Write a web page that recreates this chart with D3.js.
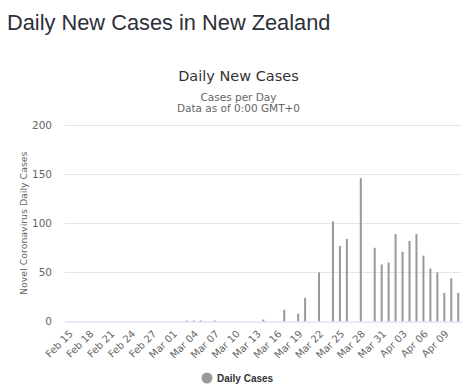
<!DOCTYPE html>
<html>
<head>
<meta charset="utf-8">
<script src="https://cdn.jsdelivr.net/npm/d3@7"></script>
<style>
  body { margin: 0; background: #fff; }
  svg text { font-family: "DejaVu Sans", Verdana, sans-serif; }
</style>
</head>
<body>
<div id="viz"></div>
<script>
// Categories (one per day)
const dates = [
  "Feb 15", "Feb 16", "Feb 17", "Feb 18", "Feb 19", "Feb 20", "Feb 21", "Feb 22", "Feb 23", "Feb 24",
  "Feb 25", "Feb 26", "Feb 27", "Feb 28", "Feb 29", "Mar 01", "Mar 02", "Mar 03", "Mar 04", "Mar 05",
  "Mar 06", "Mar 07", "Mar 08", "Mar 09", "Mar 10", "Mar 11", "Mar 12", "Mar 13", "Mar 14", "Mar 15",
  "Mar 16", "Mar 17", "Mar 18", "Mar 19", "Mar 20", "Mar 21", "Mar 22", "Mar 23", "Mar 24", "Mar 25",
  "Mar 26", "Mar 27", "Mar 28", "Mar 29", "Mar 30", "Mar 31", "Apr 01", "Apr 02", "Apr 03", "Apr 04",
  "Apr 05", "Apr 06", "Apr 07", "Apr 08", "Apr 09", "Apr 10", "Apr 11"
];

// Daily new cases
const cases = [
  0, 0, 0, 0, 0, 0, 0, 0, 0, 0,
  0, 0, 0, 0, 0, 0, 0, 1, 1, 1,
  0, 1, 0, 0, 0, 0, 0, 0, 2, 0,
  0, 12, 0, 8, 24, 0, 50, 0, 102, 77,
  84, 0, 146, 0, 75, 58, 60, 89, 71, 82,
  89, 67, 54, 50, 29, 44, 29
];

// Labelled ticks
const xTickLabels = [
  "Feb 15", "Feb 18", "Feb 21", "Feb 24", "Feb 27", "Mar 01", "Mar 04", "Mar 07", "Mar 10", "Mar 13",
  "Mar 16", "Mar 19", "Mar 22", "Mar 25", "Mar 28", "Mar 31", "Apr 03", "Apr 06", "Apr 09"
];
const yTicks = [0, 50, 100, 150, 200];

const width = 467;
const height = 390;
const margin = {top: 125, right: 5.3, bottom: 68.5, left: 65};

const svg = d3.select("#viz").append("svg")
  .attr("width", width)
  .attr("height", height);

// Page title
svg.append("text")
  .attr("x", 7)
  .attr("y", 30)
  .style("font-family", "'Liberation Sans', Arial, sans-serif")
  .attr("font-size", 21.8)
  .attr("fill", "#2d2f3a")
  .text("Daily New Cases in New Zealand");

// Chart title + subtitle
svg.append("text")
  .attr("x", 238.5).attr("y", 81)
  .attr("text-anchor", "middle")
  .attr("font-size", 14.5)
  .attr("fill", "#333")
  .text("Daily New Cases");

svg.append("text")
  .attr("x", 238.5).attr("y", 100.5)
  .attr("text-anchor", "middle")
  .attr("font-size", 10.5)
  .attr("fill", "#666")
  .text("Cases per Day");

svg.append("text")
  .attr("x", 238.5).attr("y", 111.5)
  .attr("text-anchor", "middle")
  .attr("font-size", 10.5)
  .attr("fill", "#666")
  .text("Data as of 0:00 GMT+0");

const x = d3.scaleBand()
  .domain(dates)
  .range([margin.left, width - margin.right]);

const y = d3.scaleLinear()
  .domain([0, 200])
  .range([height - margin.bottom, margin.top]);

// Gridlines
svg.append("g")
  .selectAll("line")
  .data(yTicks.filter(d => d > 0))
  .enter()
  .append("line")
  .attr("x1", margin.left)
  .attr("x2", width - margin.right)
  .attr("y1", d => Math.round(y(d)) + 0.5)
  .attr("y2", d => Math.round(y(d)) + 0.5)
  .attr("stroke", "#e6e6e6");

// Y axis labels
const yAxis = d3.axisLeft(y).tickValues(yTicks).tickSize(0).tickPadding(13);
const yg = svg.append("g")
  .attr("transform", `translate(${margin.left},0)`)
  .call(yAxis);
yg.select(".domain").remove();
yg.selectAll("text")
  .attr("font-size", 10.5)
  .attr("fill", "#666")
  .style("font-family", "'DejaVu Sans', Verdana, sans-serif");

// Y axis title
svg.append("text")
  .attr("transform", `translate(27,${(margin.top + height - margin.bottom) / 2}) rotate(-90)`)
  .attr("text-anchor", "middle")
  .attr("font-size", 9.4)
  .attr("fill", "#666")
  .text("Novel Coronavirus Daily Cases");

// Bars
const barW = 2;
svg.append("g")
  .selectAll("rect")
  .data(cases)
  .enter()
  .append("rect")
  .attr("x", (d, i) => x(dates[i]) + x.bandwidth() / 2 - barW / 2)
  .attr("y", d => y(d))
  .attr("width", barW)
  .attr("height", d => y(0) - y(d))
  .attr("fill", "#999");

// X axis
const xAxis = d3.axisBottom(x).tickValues(xTickLabels).tickSize(0).tickPadding(0);
const xg = svg.append("g")
  .attr("transform", `translate(0,${y(0)})`)
  .call(xAxis);
xg.select(".domain")
  .attr("stroke", "#ccd6eb")
  .attr("d", `M${margin.left},0.5H${width - margin.right}`);
xg.selectAll("text")
  .attr("font-size", 10)
  .attr("fill", "#666")
  .style("font-family", "'DejaVu Sans', Verdana, sans-serif")
  .attr("text-anchor", "end")
  .attr("dy", 0)
  .attr("y", 0)
  .attr("transform", "translate(5,13) rotate(-45)");

// Legend
svg.append("circle")
  .attr("cx", 207)
  .attr("cy", 378)
  .attr("r", 5.5)
  .attr("fill", "#999");

svg.append("text")
  .attr("x", 217)
  .attr("y", 382)
  .style("font-family", "'Liberation Sans', Arial, sans-serif")
  .attr("font-size", 10)
  .attr("font-weight", "bold")
  .attr("fill", "#333")
  .text("Daily Cases");
</script>
</body>
</html>
